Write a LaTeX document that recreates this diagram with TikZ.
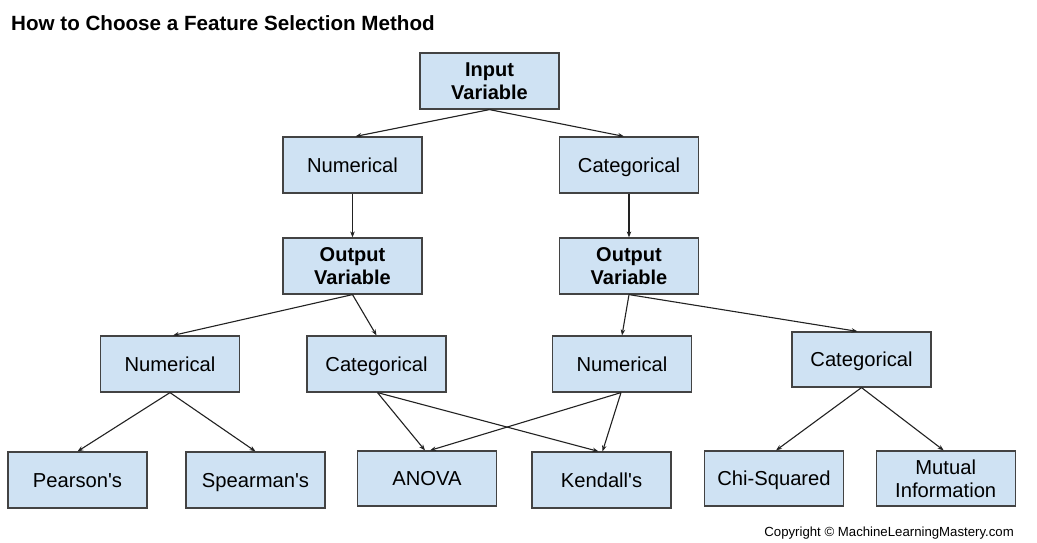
\documentclass[tikz,border=0pt]{standalone}
\usepackage{fontspec}
\setmainfont{Liberation Sans}
\usetikzlibrary{arrows.meta}
\definecolor{boxfill}{HTML}{CFE2F3}
\definecolor{boxline}{HTML}{434343}
\definecolor{arrowcol}{HTML}{222222}
\tikzset{
  fboxm/.style={draw=boxline, fill=boxfill, line width=1.2pt, minimum width=139pt,
    minimum height=56pt, inner sep=0pt, align=center,
    font=\fontsize{20.2}{23}\selectfont},
  fbox/.style={fboxm, text height=16pt, text depth=1.6pt},
  fboxb/.style={fboxm, font=\fontsize{20}{23}\selectfont\bfseries},
  conn/.style={draw=arrowcol, line width=1.1pt, -{Stealth[length=6pt,width=4.5pt]}}
}
\begin{document}
\begin{tikzpicture}[x=1pt,y=-1pt]
\fill[white] (0,0) rectangle (1037,542);
\useasboundingbox (0,0) rectangle (1037,542);
\node[anchor=base west, inner sep=0pt, font=\fontsize{20.6}{24}\selectfont\bfseries] (title) at (11,30) {How to Choose a Feature Selection Method};
\node[fboxb] (inp) at (489.5,81) {Input\\Variable};
\node[fbox] (num1) at (352.5,165) {Numerical};
\node[fbox] (cat1) at (629,165) {Categorical};
\node[fboxb] (out1) at (352.5,266) {Output\\Variable};
\node[fboxb] (out2) at (629,266) {Output\\Variable};
\node[fbox] (num2) at (170,364) {Numerical};
\node[fbox] (cat2) at (376.5,364) {Categorical};
\node[fbox] (num3) at (622,364) {Numerical};
\node[fbox, minimum height=55pt] (cat3) at (861.5,359.5) {Categorical};
\node[fbox] (pear) at (77.5,480) {Pearson\textquotesingle s};
\node[fbox] (spear) at (255.5,480) {Spearman\textquotesingle s};
\node[fbox, minimum height=55pt] (anova) at (427,478.5) {ANOVA};
\node[fbox] (kend) at (601.5,480) {Kendall\textquotesingle s};
\node[fbox, minimum height=55pt] (chi) at (774,478.5) {Chi-Squared};
\node[fboxm, minimum height=55pt] (mut) at (945.7,478.5) {Mutual\\Information};
\node[anchor=base east, inner sep=0pt, font=\fontsize{13.2}{15}\selectfont] (copy) at (1014,536) {Copyright © MachineLearningMastery.com};
\draw[conn] (inp.south) -- ([xshift=3pt]num1.north);
\draw[conn] (inp.south) -- ([xshift=-5pt]cat1.north);
\draw[conn] (num1.south) -- (out1.north);
\draw[conn] (cat1.south) -- (out2.north);
\draw[conn] (out1.south) -- ([xshift=3pt]num2.north);
\draw[conn] (out1.south) -- (cat2.north);
\draw[conn] (out2.south) -- (num3.north);
\draw[conn] (out2.south) -- ([xshift=-4pt]cat3.north);
\draw[conn] (num2.south) -- (pear.north);
\draw[conn] (num2.south) -- (spear.north);
\draw[conn] ([xshift=1pt]cat2.south) -- ([xshift=-2pt]anova.north);
\draw[conn] ([xshift=1pt]cat2.south) -- ([xshift=-3pt]kend.north);
\draw[conn] ([xshift=-1pt]num3.south) -- ([xshift=3pt]anova.north);
\draw[conn] ([xshift=-1pt]num3.south) -- ([xshift=1pt]kend.north);
\draw[conn] (cat3.south) -- ([xshift=2pt]chi.north);
\draw[conn] (cat3.south) -- ([xshift=-2pt]mut.north);
\end{tikzpicture}
\end{document}
